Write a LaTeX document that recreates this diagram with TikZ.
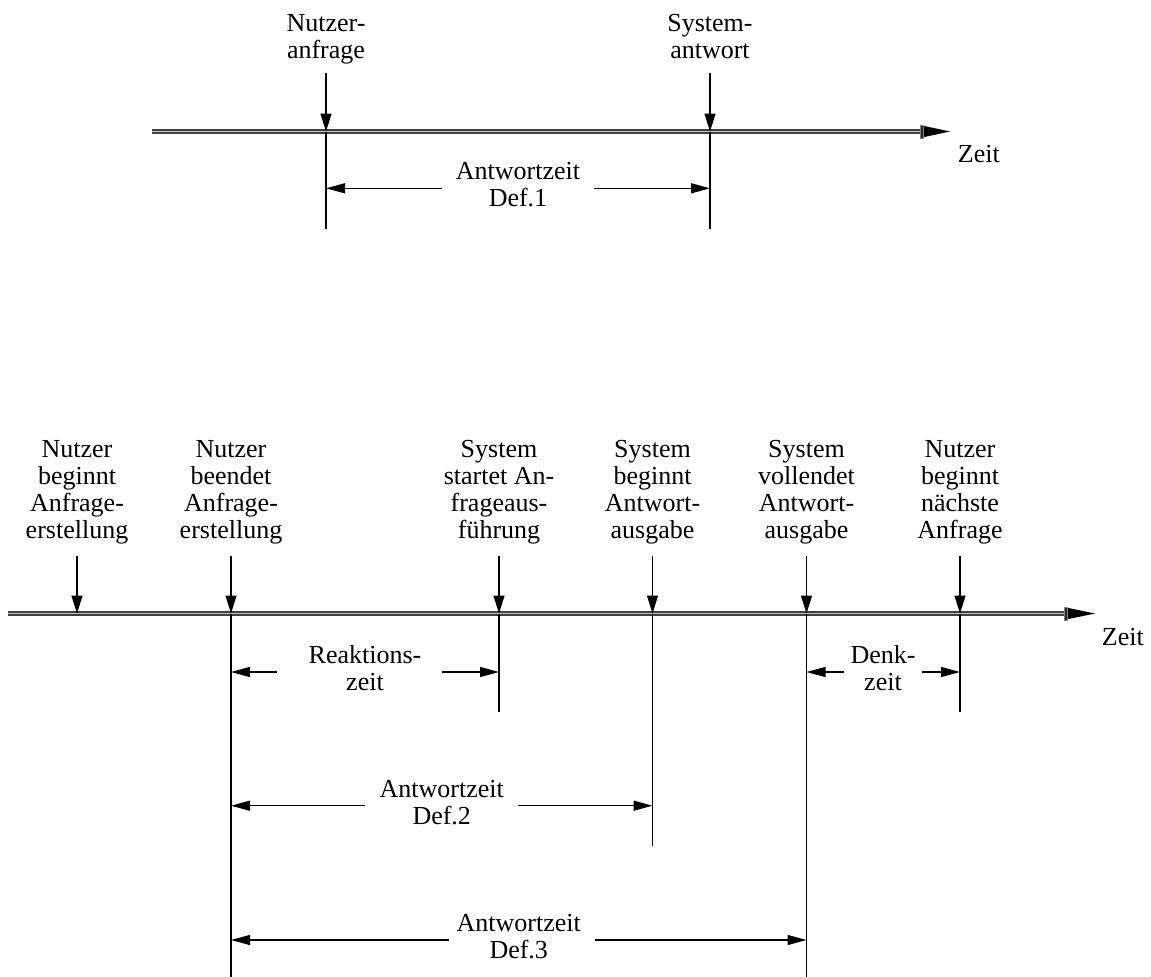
\documentclass[tikz,border=0pt]{standalone}
\usepackage{fontspec}
\setmainfont{Liberation Serif}
\usetikzlibrary{arrows.meta,calc}
\begin{document}
\begin{tikzpicture}[x=1pt,y=-1pt,
  lbl/.style={font=\fontsize{26}{27}\selectfont, align=center, inner sep=0pt},
  evt/.style={lbl, anchor=south},
  span/.style={lbl, anchor=north, inner xsep=14pt},
  tick/.style={line width=1.3pt, -{Triangle[length=18pt,width=11pt]}},
  guide/.style={line width=1.3pt},
  dim/.style={line width=1.2pt, -{Triangle[length=19pt,width=10pt]}},
  axisouter/.style={draw=black!75, line width=4.2pt},
  axisinner/.style={draw=gray!50, line width=1.6pt},
  axistip/.style={fill=black},
  tipbox/.style={draw=gray, line width=0.8pt, fill=black!85}
]
\useasboundingbox (0,0) rectangle (1151,977);

% ---------- upper time line ----------
\coordinate (ta0) at (152,131.5);
\coordinate (ta1) at (922,131.5);
\coordinate (ta2) at (950,131.5);
\draw[axisouter] (ta0) -- (ta1);
\draw[axisinner] (ta0) -- (ta1);
\fill[axistip] ($(ta1)+(0,-6)$) -- (ta2) -- ($(ta1)+(0,6)$) -- cycle;
\draw[tipbox] ($(ta1)+(-2,-6.5)$) rectangle ($(ta1)+(1.5,6.5)$);
\node[lbl, anchor=base west] (tz) at (957.7,162.3) {Zeit};

% events
\node[evt] (u1) at (326,67.1) {Nutzer-\\anfrage\strut};
\node[evt] (u2) at (710,67.1) {System-\\antwort\strut};
\coordinate (u1t) at (326,73);   \coordinate (u1a) at (326,131.5); \coordinate (u1b) at (326,229);
\coordinate (u2t) at (710,73);   \coordinate (u2a) at (710,131.5); \coordinate (u2b) at (710,229);
\draw[tick] (u1t) -- (u1a);
\draw[guide] (u1a) -- (u1b);
\draw[tick] (u2t) -- (u2a);
\draw[guide] (u2a) -- (u2b);

% Def.1
\coordinate (d1l) at (326,188.3);
\coordinate (d1r) at (710,188.3);
\node[span] (d1) at (518,160.1) {\strut Antwortzeit\\Def.1};
\draw[dim] (d1.west |- d1l) -- (d1l);
\draw[dim] (d1.east |- d1r) -- (d1r);

% ---------- lower time line ----------
\coordinate (tb0) at (8,613.5);
\coordinate (tb1) at (1066,613.5);
\coordinate (tb2) at (1095,613.5);
\draw[axisouter] (tb0) -- (tb1);
\draw[axisinner] (tb0) -- (tb1);
\fill[axistip] ($(tb1)+(0,-6)$) -- (tb2) -- ($(tb1)+(0,6)$) -- cycle;
\draw[tipbox] ($(tb1)+(-2,-6.5)$) rectangle ($(tb1)+(1.5,6.5)$);
\node[lbl, anchor=base west] (bz) at (1101.7,645) {Zeit};

% events
\node[evt] (e1) at (77,547.1)    {Nutzer\\beginnt\\Anfrage-\\erstellung\strut};
\node[evt] (e2) at (231,547.1)   {Nutzer\\beendet\\Anfrage-\\erstellung\strut};
\node[evt] (e3) at (499,547.1)   {System\\startet An-\\frageaus-\\führung\strut};
\node[evt] (e4) at (652.5,547.1) {System\\beginnt\\Antwort-\\ausgabe\strut};
\node[evt] (e5) at (806.5,547.1) {System\\vollendet\\Antwort-\\ausgabe\strut};
\node[evt] (e6) at (960,547.1)   {Nutzer\\beginnt\\nächste\\Anfrage\strut};

\coordinate (e1t) at (77,556);    \coordinate (e1a) at (77,613.5);
\coordinate (e2t) at (231,556);   \coordinate (e2a) at (231,613.5);   \coordinate (e2b) at (231,977);
\coordinate (e3t) at (499,556);   \coordinate (e3a) at (499,613.5);   \coordinate (e3b) at (499,712);
\coordinate (e4t) at (652.5,556); \coordinate (e4a) at (652.5,613.5); \coordinate (e4b) at (652.5,846);
\coordinate (e5t) at (806.5,556); \coordinate (e5a) at (806.5,613.5); \coordinate (e5b) at (806.5,977);
\coordinate (e6t) at (960,556);   \coordinate (e6a) at (960,613.5);   \coordinate (e6b) at (960,712);

\draw[tick] (e1t) -- (e1a);
\foreach \i in {2,...,6} {
  \draw[tick] (e\i t) -- (e\i a);
  \draw[guide] (e\i a) -- (e\i b);
}

% Reaktionszeit
\coordinate (rl) at (231,672);
\coordinate (rr) at (499,672);
\node[span, inner xsep=20pt] (rz) at (365,644.1) {\strut Reaktions-\\zeit};
\draw[dim] ([xshift=-11pt]rz.west |- rl) -- (rl);
\draw[dim] (rz.east |- rr) -- (rr);

% Denkzeit
\coordinate (dl) at (806.5,672);
\coordinate (dr) at (960,672);
\node[span, inner xsep=6pt] (dz) at (883,644.1) {\strut Denk-\\zeit};
\draw[dim] (dz.west |- dl) -- (dl);
\draw[dim] (dz.east |- dr) -- (dr);

% Def.2
\coordinate (d2l) at (231,805.7);
\coordinate (d2r) at (652.5,805.7);
\node[span] (d2) at (441.75,778) {\strut Antwortzeit\\Def.2};
\draw[dim] (d2.west |- d2l) -- (d2l);
\draw[dim] (d2.east |- d2r) -- (d2r);

% Def.3
\coordinate (d3l) at (231,940);
\coordinate (d3r) at (806.5,940);
\node[span] (d3) at (518.75,912) {\strut Antwortzeit\\Def.3};
\draw[dim] ([xshift=7pt]d3.west |- d3l) -- (d3l);
\draw[dim] (d3.east |- d3r) -- (d3r);
\end{tikzpicture}
\end{document}
